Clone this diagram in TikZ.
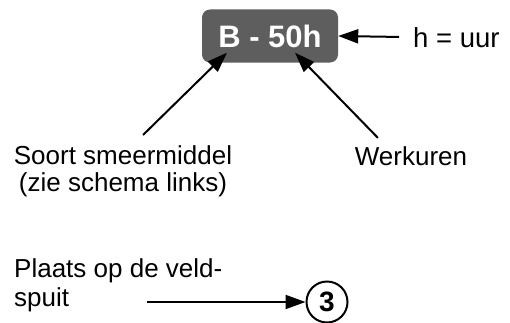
\documentclass[tikz,border=0pt]{standalone}
\usepackage{fontspec}
\setmainfont{Liberation Sans}
\usetikzlibrary{positioning,arrows.meta}
\definecolor{codegray}{HTML}{5E5E5E}
\begin{document}
\begin{tikzpicture}[
    x=1pt, y=1pt,
    codebox/.style={rectangle, rounded corners=8pt, fill=codegray, text=white, minimum width=136pt, minimum height=53pt, font=\fontsize{31}{32}\selectfont\bfseries},
    label/.style={inner sep=0pt, font=\fontsize{26}{28}\selectfont},
    num/.style={circle, draw, line width=2pt, minimum size=41pt, inner sep=0pt, font=\fontsize{28}{30}\selectfont\bfseries},
    arrow/.style={-{Triangle[length=20pt,width=14pt]}, line width=2pt}
]
\useasboundingbox (0,0) rectangle (510,322);
\node[codebox] (code) at (270,286) {B - 50h};
\node[label, anchor=base west, font=\fontsize{27.5}{29}\selectfont] (unit) at (413,275) {h = uur};
\node[label, align=center, anchor=north] (smeer) at (123,177) {Soort smeermiddel\\[-1pt](zie schema links)};
\node[label, anchor=base] (werk) at (411,157) {Werkuren};
\node[label, align=left, anchor=north west] (plaats) at (14,64) {Plaats op de veld-\\[1pt]spuit};
\node[num] (drie) at (327,20) {3};
\coordinate (start) at (147,20);
\draw[arrow, shorten <=14pt] (unit.west) -- (code.east);
\draw[arrow] ([xshift=20pt,yshift=10pt]smeer.north) -- ([xshift=-43pt,yshift=10pt]code.south);
\draw[arrow] ([xshift=-33pt,yshift=8pt]werk.north) -- ([xshift=25pt,yshift=10pt]code.south);
\draw[arrow] (start) -- (drie.west);
\end{tikzpicture}
\end{document}
